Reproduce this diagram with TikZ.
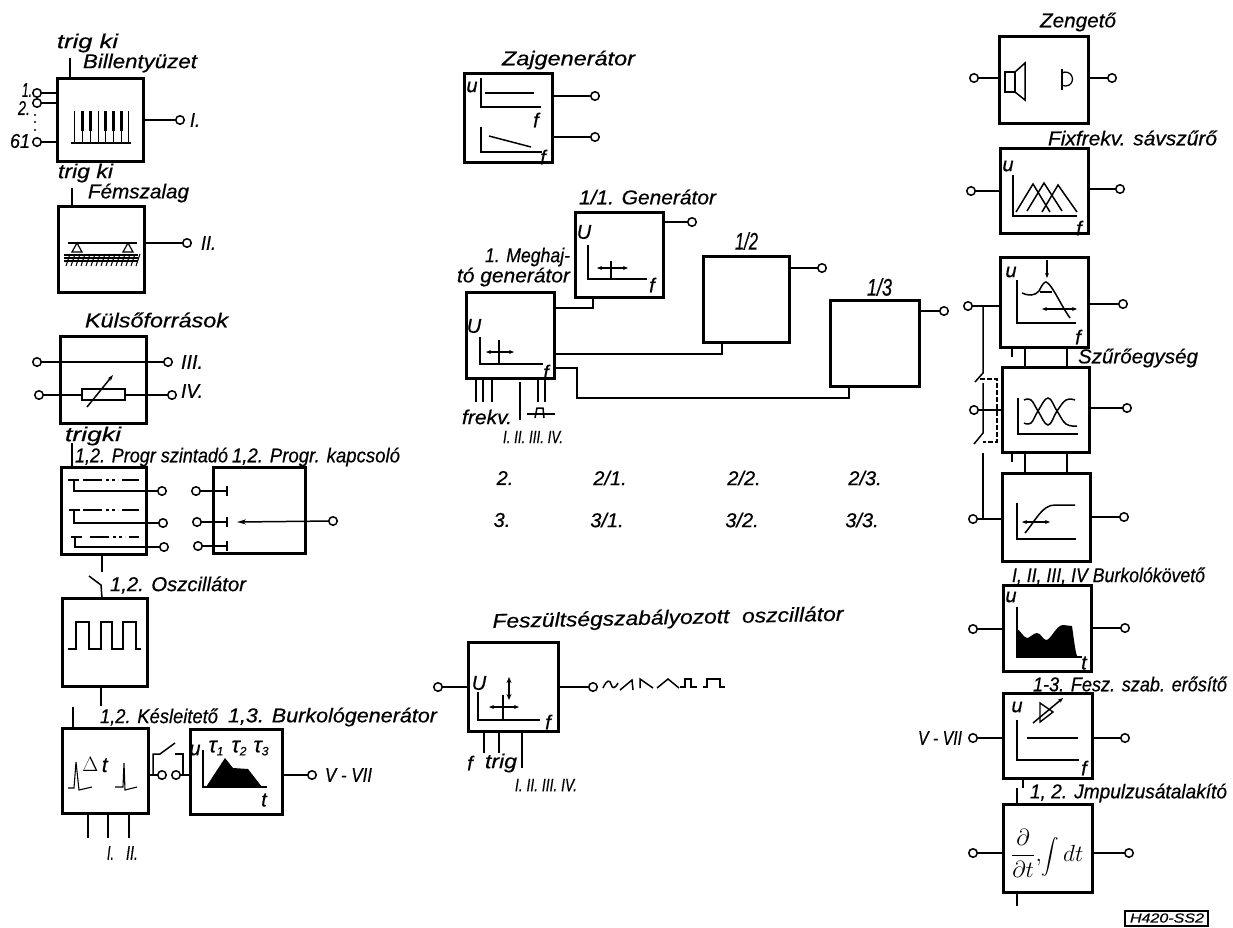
\documentclass[tikz,border=0pt]{standalone}
\usepackage{graphicx}
\usepackage{fontspec}
\setmainfont{Liberation Sans}[ItalicFeatures={FakeBold=0.5}]
\usetikzlibrary{arrows.meta,calc}
\newsavebox\lbbox
\newlength\lbw
\newcommand\lb[6][20]{%
  \node[lbl,anchor=west] (#2) at (#3,#5) {%
    \sbox\lbbox{\fontsize{#1}{#1}\selectfont\itshape #6}%
    \setlength\lbw{\wd\lbbox}%
    \pgfmathsetmacro\lbr{(#4-#3)/\lbw}%
    \scalebox{\lbr}[1]{\usebox\lbbox}};}
\newcommand\ic[4][20]{\node[lbl] (#2) at (#3) {\fontsize{#1}{#1}\selectfont\itshape #4};}
\newcommand\bx[5]{\pgfmathsetmacro\bw{#4-#2}\pgfmathsetmacro\bh{#5-#3}%
  \node[blockbox,minimum width=\bw pt,minimum height=\bh pt,anchor=north west] (#1) at (#2,#3) {};}
\newcommand\tm[2]{\node[termin] (#1) at (#2) {};}
\tikzset{
  blockbox/.style={draw=black,line width=3pt,inner sep=0pt,outer sep=0pt},
  termin/.style={circle,draw=black,fill=white,line width=1.5pt,minimum size=8.5pt,inner sep=0pt,outer sep=0pt},
  lbl/.style={inner sep=0pt,outer sep=0pt,text=black},
  wire/.style={draw=black,line width=1.5pt},
  axisl/.style={draw=black,line width=1.5pt},
  tick/.style={draw=black,line width=1.7pt},
  twoarrow/.style={draw=black,line width=1.2pt,{Stealth[length=5pt,width=4pt]}-{Stealth[length=5pt,width=4pt]}}
}
\begin{document}
\begin{tikzpicture}[x=1pt,y=-1pt]
\fill[white] (0,0) rectangle (1233,927);
\useasboundingbox (0,0) rectangle (1233,927);

% ---------- boxes ----------
\bx{bill}{57}{78}{143}{161}
\bx{fem}{58}{206}{144}{292}
\bx{kuls}{60}{336}{146}{423}
\bx{pszint}{61}{467}{146}{554}
\bx{pkap}{213}{467}{305}{553}
\bx{osz}{62}{598}{147}{686}
\bx{kes}{62}{728}{148}{813}
\bx{bgen}{190}{729}{282}{814}
\bx{zaj}{464}{73}{552}{162}
\bx{gen}{575}{212}{663}{297}
\bx{megh}{466}{292}{554}{378}
\bx{gb}{703}{256}{789}{342}
\bx{gc}{830}{300}{919}{386}
\bx{vco}{468}{642}{558}{731}
\bx{zeng}{999}{36}{1088}{123}
\bx{fix}{1000}{148}{1088}{233}
\bx{sza}{1000}{257}{1088}{347}
\bx{szb}{1002}{367}{1089}{452}
\bx{szc}{1002}{473}{1090}{561}
\bx{bkov}{1003}{585}{1091}{671}
\bx{ferz}{1003}{693}{1092}{778}
\bx{imp}{1003}{804}{1092}{892}

% ---------- terminals ----------
\tm{ta}{37,93}\tm{tb}{37,103}\tm{tc}{37,142}\tm{td}{180,120}
\tm{te}{187,243}
\tm{tf}{37,362}\tm{tg}{168,362}\tm{th}{39,395}\tm{ti}{172,395}
\tm{tj}{162,491}\tm{tk}{163,523}\tm{tl}{164,547}
\tm{tm}{196,491}\tm{tn}{197,522}\tm{to}{198,546}\tm{tp}{333,521}
\tm{tq}{162,775}\tm{tr}{176,775}\tm{ts}{312,775}
\tm{zt1}{595,96}\tm{zt2}{595,137}
\tm{gt}{692,222}\tm{gbt}{822,268}\tm{gct}{944,311}
\tm{vl}{438,687}\tm{vr}{593,687}
\tm{zl}{974,78}\tm{zr}{1112,78}
\tm{fl}{971,191}\tm{fr}{1120,189}
\tm{al}{968,306}\tm{ar}{1123,304}
\tm{bl}{974,410}\tm{br}{1127,408}
\tm{cl}{973,519}\tm{cr}{1124,517}
\tm{dl}{973,629}\tm{dr}{1125,628}
\tm{el}{973,738}\tm{er}{1125,738}
\tm{il}{973,853}\tm{ir}{1129,853}

% ---------- connectors ----------
\foreach \t in {ta,tb,tc}{\draw[wire] (\t) -- (\t -| bill.west);}
\draw[wire] (td) -- (td -| bill.east);
\draw[wire] (te) -- (te -| fem.east);
\draw[wire] (tf) -- (tg);
\draw[wire] (th) -- (ti);
\draw[wire] (bill.north -| 70,0) -- (70,58);
\draw[wire] (fem.north -| 72,0) -- (72,188);
\draw[wire] (pszint.north -| 72,0) -- (72,443);
\coordinate (t1) at (74,480);\coordinate (t2) at (74,510);\coordinate (t3) at (75,537);
\draw[wire] (tj) -| (t1);\draw[wire] (tk) -| (t2);\draw[wire] (tl) -| (t3);
\coordinate (k1) at (227,491);\coordinate (k2) at (227,522);\coordinate (k3) at (227,546);
\draw[wire] (tm) -- (k1);\draw[wire] (tn) -- (k2);\draw[wire] (to) -- (k3);
\foreach \k in {k1,k2,k3}{\draw[tick] ($(\k)+(0,-5)$) -- ($(\k)+(0,5)$);}
\coordinate (k4) at (237,522);
\draw[wire,-{Stealth[length=9pt,width=5pt]}] (tp) -- (k4);
\draw[wire] (pszint.south -| 102,0) -- (102,572);
\draw[wire] (osz.north -| 102,0) -- (101,585) -- (89,576);
\draw[wire] (osz.south -| 101,0) -- (101,706);
\draw[wire] (kes.north -| 73,0) -- (73,707);
\foreach \x in {88,108,129}{\draw[wire] (kes.south -| \x,0) -- (\x,838);}
\draw[wire] (tq) -- (tq -| kes.east);
\draw[wire] (tr) -- (tr -| bgen.west);
\draw[wire] (153,774) -- (153,754) -- (160,754) -- (175,743);
\draw[wire] (175,754) -- (183,754) -- (183,774);
\draw[wire] (ts) -- (ts -| bgen.east);
\draw[wire] (zt1) -- (zt1 -| zaj.east);
\draw[wire] (zt2) -- (zt2 -| zaj.east);
\draw[wire] (gt) -- (gt -| gen.east);
\draw[wire] (gbt) -- (gbt -| gb.east);
\draw[wire] (gct) -- (gct -| gc.east);
\draw[wire] (megh.east |- 0,308) -| (gen.south -| 593,0);
\draw[wire] (megh.east |- 0,354) -| (gb.south -| 722,0);
\draw[wire] (megh.east |- 0,368) -- (577,368) -- (577,398) -| (gc.south -| 849,0);
\foreach \x in {476,483,492,538,545}{\draw[wire] (megh.south -| \x,0) -- (\x,402);}
\draw[wire] (520,382) -- (520,420);
\draw[wire] (vl) -- (vl -| vco.west);
\draw[wire] (vr) -- (vr -| vco.east);
\draw[wire] (vco.south -| 484,0) -- (484,753);
\draw[wire] (vco.south -| 499,0) -- (499,753);
\draw[wire] (vco.south -| 522,0) -- (522,768);
\foreach \a/\b in {zl/zeng.west,zr/zeng.east,fl/fix.west,fr/fix.east,al/sza.west,ar/sza.east,bl/szb.west,br/szb.east,cl/szc.west,cr/szc.east,dl/bkov.west,dr/bkov.east,el/ferz.west,er/ferz.east,il/imp.west,ir/imp.east}
  {\draw[wire] (\a) -- (\a -| \b);}
% filter unit links
\draw[wire] (sza.south -| 1025,0) -- (szb.north -| 1025,0);
\draw[wire] (sza.south -| 1067,0) -- (szb.north -| 1067,0);
\draw[wire] (szb.south -| 1025,0) -- (szc.north -| 1025,0);
\draw[wire] (szb.south -| 1067,0) -- (szc.north -| 1067,0);
\draw[wire] (sza.south -| 1012,0) -- (1012,357);
\draw[wire] (szb.south -| 1012,0) -- (1012,462);
\draw[wire] (983,306) -- (983,373) -- (975,382);
\draw[wire] (983,383) -- (983,433) -- (974,444);
\draw[wire] (983,453) -- (983,519);
\draw[wire,dash pattern=on 5pt off 2pt] (980,379) -- (997,379) -- (997,442) -- (983,442);
\draw[wire] (ferz.south -| 1023,0) -- (1023,788);
\draw[wire] (imp.north -| 1017,0) -- (1017,788);
\draw[wire] (imp.south -| 1017,0) -- (1017,906);

% ---------- pictograms ----------
% keyboard
\draw[axisl] (71,143) -- (131,143);
\foreach \x in {74,82,90,98,105,113,121,128}{\draw[line width=1pt] (\x,111) -- (\x,143);}
\foreach \x in {82,90,105,113,121}{\draw[line width=3pt] (\x,111) -- (\x,131);}
% metal strip
\draw[axisl] (68,243) -- (137,243);
\draw[line width=1.2pt] (72,252) -- (77,243) -- (82,252) -- cycle;
\draw[line width=1.2pt] (123,252) -- (128,243) -- (133,252) -- cycle;
\foreach \y in {255,258,261}{\draw[line width=1.3pt] (64,\y) -- (138,\y);}
\foreach \x in {66,71,...,136}{\draw[line width=1pt] (\x,266) -- (\x+4,254);}
% resistor
\draw[line width=1.8pt,fill=white] (82,389) rectangle (125,400);
\draw[wire,-{Stealth[length=6pt,width=4pt]}] (87,407) -- (113,375);
% level programmer
\foreach \x/\y/\a in {68/480/83,69/510/83,71/537/90}{
  \draw[line width=2pt] (\x,\y) -- (\x+11,\y);
  \draw[wire] (\a,\y) -- (\a+19,\y);
  \draw[wire,dash pattern=on 3pt off 3pt] (\a+23,\y) -- (\a+35,\y);
  \draw[wire] (\a+39,\y) -- (139,\y);
}
% oscillator wave
\draw[line width=1.7pt] (68,649) -- (76,649) -- (76,622) -- (89,622) -- (89,649) -- (101,649) -- (101,622) -- (112,622) -- (112,649) -- (123,649) -- (123,622) -- (136,622) -- (136,649) -- (141,649);
% delay
\draw[line width=1.1pt] (68,788) -- (74,788) -- (76,762) -- (79,790) -- (92,787);
\draw[line width=1.1pt] (115,787) -- (123,787) -- (124,763) -- (125,790) -- (137,787);
% envelope
\draw[axisl] (203,750) -- (203,787) -- (267,787);
\fill[black] (206,787) -- (225,758) -- (233,768) -- (248,769) -- (262,787) -- cycle;
% noise
\draw[axisl] (481,78) -- (481,107) -- (541,107);
\draw[wire] (485,93) -- (534,93);
\draw[axisl] (481,127) -- (481,152) -- (542,152);
\draw[wire] (489,136) -- (531,147);
% 1/1 generator
\draw[axisl] (588,245) -- (588,279) -- (647,279);
\draw[twoarrow] (597,268) -- (628,268);
\draw[wire] (611,261) -- (611,279);
% driver
\draw[axisl] (480,337) -- (480,364) -- (543,364);
\draw[twoarrow] (486,352) -- (514,352);
\draw[wire] (499,340) -- (499,364);
% pulse symbol
\draw[wire] (527,414) -- (555,414);
\draw[wire] (535,418) -- (537,408) -- (543,408) -- (544,418);
% VCO
\draw[axisl] (478,692) -- (478,720) -- (540,720);
\draw[twoarrow] (489,707) -- (519,707);
\draw[wire] (503,695) -- (503,720);
\draw[draw=black,line width=1.8pt,{Stealth[length=6pt,width=5pt]}-{Stealth[length=6pt,width=5pt]}] (509,677) -- (509,700);
% VCO waves
\draw[wire] (603,688) .. controls (607,679) and (610,680) .. (611,684) .. controls (612,689) and (615,689) .. (618,683);
\draw[wire] (620,690) -- (632,680) -- (633,690);
\draw[wire] (640,688) -- (640,679) -- (653,688);
\draw[wire] (657,688) -- (668,679) -- (679,688);
\draw[wire] (680,687) -- (685,687) -- (685,679) -- (691,679) -- (691,687) -- (697,687);
\draw[wire] (703,687) -- (707,687) -- (707,679) -- (720,679) -- (720,687) -- (725,687);
% loudspeaker and bell
\draw[line width=1.5pt] (1005,72) rectangle (1015,92);
\draw[line width=1.5pt] (1015,72) -- (1025,63) -- (1025,100) -- (1015,92);
\draw[line width=1.3pt] (1062,69) -- (1062,90);
\draw[line width=1.3pt] (1062,73) arc[start angle=120,end angle=-120,radius=7pt];
% fix band filter
\draw[axisl] (1013,175) -- (1013,216) -- (1077,216);
\draw[wire] (1016,212) -- (1033,184) -- (1050,212);
\draw[wire] (1027,211) -- (1044,183) -- (1062,211);
\draw[wire] (1042,212) -- (1058,185) -- (1077,212);
% filter 1
\draw[axisl] (1017,280) -- (1017,323) -- (1076,323);
\draw[wire] (1022,293) .. controls (1028,296) and (1035,296) .. (1039,291) .. controls (1042,285) and (1044,282) .. (1046,282) .. controls (1052,284) and (1060,304) .. (1070,318);
\draw[line width=1.6pt] (1040,292) -- (1052,292);
\draw[twoarrow] (1042,309) -- (1077,309);
\draw[draw=black,line width=1.2pt,-{Stealth[length=5pt,width=4pt]}] (1047,260) -- (1047,278);
% filter 2
\draw[axisl] (1018,398) -- (1018,434) -- (1078,434);
\draw[wire] plot[smooth,tension=.7] coordinates {(1024,400) (1031,400) (1038,411) (1048,425) (1057,411) (1066,400) (1075,400)};
\draw[wire] plot[smooth,tension=.7] coordinates {(1024,423) (1031,423) (1038,411) (1048,398) (1057,411) (1066,424) (1077,426)};
% filter 3
\draw[axisl] (1017,503) -- (1017,539) -- (1076,539);
\draw[wire] (1025,533) .. controls (1036,520) and (1042,505) .. (1055,505) -- (1075,505);
\draw[twoarrow] (1022,522) -- (1050,522);
% envelope follower
\draw[axisl] (1017,607) -- (1017,657) -- (1082,657);
\fill[black] (1016,628) .. controls (1020,630) and (1024,638) .. (1027,638) .. controls (1030,638) and (1033,633) .. (1037,633) .. controls (1041,633) and (1043,640) .. (1046,640) .. controls (1051,640) and (1056,625) .. (1063,625) -- (1072,626) .. controls (1074,640) and (1075,650) .. (1077,656) -- (1016,656) -- cycle;
% VCA
\draw[axisl] (1017,720) -- (1017,760) -- (1079,760);
\draw[wire] (1027,738) -- (1078,738);
\draw[line width=1.4pt] (1040,703) -- (1040,722) -- (1053,712) -- cycle;
\draw[wire,-{Stealth[length=5pt,width=4pt]}] (1033,723) -- (1063,698);
% tag
\draw[line width=1.2pt] (1125,911) rectangle (1208,926);

% ---------- texts ----------
\lb{l01}{57}{118}{43}{trig ki}
\lb{l02}{83}{197}{63}{Billentyüzet}
\lb{l03}{22}{32}{90}{1.}
\lb{l04}{18}{30}{108}{2.}
\lb{l05}{10}{30}{141}{61}
\fill (35,115) circle (1.2pt);\fill (35,122) circle (1.2pt);\fill (35,130) circle (1.2pt);
\lb{l06}{190}{200}{120}{I.}
\lb{l07}{58}{113}{173}{trig ki}
\lb{l08}{88}{189}{193}{Fémszalag}
\lb{l09}{201}{216}{243}{II.}
\lb{l10}{85}{228}{320}{Külsőforrások}
\lb{l11}{181}{203}{362}{III.}
\lb{l12}{181}{203}{391}{IV.}
\lb{l13}{65}{121}{436}{trigki}
\lb{l14}{75}{228}{457}{1,2. Progr szintadó}
\lb{l15}{232}{400}{457}{1,2. Progr. kapcsoló}
\lb{l16}{110}{246}{585}{1,2. Oszcillátor}
\lb{l17}{100}{218}{717}{1,2. Késleitető}
\lb{l18}{228}{437}{717}{1,3. Burkológenerátor}
\ic[21]{l19}{95,765}{$\Delta$\,t}
\ic{l20}{195,750}{u}
\ic[22]{l21}{216,748}{τ\raisebox{-3pt}{\fontsize{12}{12}\selectfont 1}}
\ic[22]{l22}{239,748}{τ\raisebox{-3pt}{\fontsize{12}{12}\selectfont 2}}
\ic[22]{l23}{261,748}{τ\raisebox{-3pt}{\fontsize{12}{12}\selectfont 3}}
\ic{l24}{264,800}{t}
\lb{l25}{325}{372}{775}{V - VII}
\lb{l26}{107}{114}{853}{I.}
\lb{l27}{126}{138}{853}{II.}
\lb{l28}{502}{635}{60}{Zajgenerátor}
\ic{l29}{472,87}{u}
\ic{l30}{536,120}{f}
\ic{l31}{543,157}{f}
\lb{l32}{579}{716}{197}{1/1. Generátor}
\ic{l33}{584,232}{U}
\ic{l34}{652,285}{f}
\lb{l35}{485}{570}{257}{1. Meghaj-}
\lb{l36}{457}{570}{277}{tó generátor}
\ic{l37}{474,326}{U}
\ic{l38}{546,372}{f}
\lb{l39}{462}{512}{417}{frekv.}
\lb[18]{l40}{503}{563}{437}{I. II. III. IV.}
\lb[24]{l41}{735}{758}{241}{1/2}
\lb[24]{l42}{867}{892}{287}{1/3}
\ic{l43}{505,478}{2.}\ic{l44}{610,478}{2/1.}\ic{l45}{744,478}{2/2.}\ic{l46}{865,478}{2/3.}
\ic{l47}{502,520}{3.}\ic{l48}{607,520}{3/1.}\ic{l49}{742,520}{3/2.}\ic{l50}{862,520}{3/3.}
\node[lbl,rotate=1.2] (l51) at (668,619) {\scalebox{1.14}[1]{\fontsize{20}{20}\selectfont\itshape Feszültségszabályozott\ \ oszcillátor}};
\ic{l52}{479,683}{U}
\ic{l53}{548,722}{f}
\ic{l54}{470,763}{f}
\lb{l55}{485}{517}{763}{trig}
\lb[18]{l56}{515}{577}{785}{I. II. III. IV.}
\lb{l57}{1040}{1116}{22}{Zengető}
\lb{l58}{1048}{1217}{138}{Fixfrekv. sávszűrő}
\ic{l59}{1008,166}{u}
\ic{l60}{1079,228}{f}
\ic{l61}{1011,272}{u}
\ic{l62}{1078,337}{f}
\lb{l63}{1078}{1198}{358}{Szűrőegység}
\lb{l64}{1012}{1205}{576}{I, II, III, IV Burkolókövető}
\ic{l65}{1011,597}{u}
\ic{l66}{1084,663}{t}
\lb{l67}{1033}{1227}{684}{1-3. Fesz. szab. erősítő}
\lb{l68}{918}{962}{738}{V - VII}
\ic{l69}{1017,707}{u}
\ic{l70}{1084,768}{f}
\lb{l71}{1030}{1227}{793}{1, 2. Jmpulzusátalakító}
\node[lbl] (l72) at (1047,853) {\scalebox{1.35}{\fontsize{17}{20}\selectfont $\displaystyle\frac{\partial}{\partial t},$\raisebox{-3pt}{\scalebox{1.3}{$\displaystyle\int$}}\,$\displaystyle dt$}};
\lb[13]{l73}{1130}{1204}{918}{H420-SS2}
\end{tikzpicture}
\end{document}
